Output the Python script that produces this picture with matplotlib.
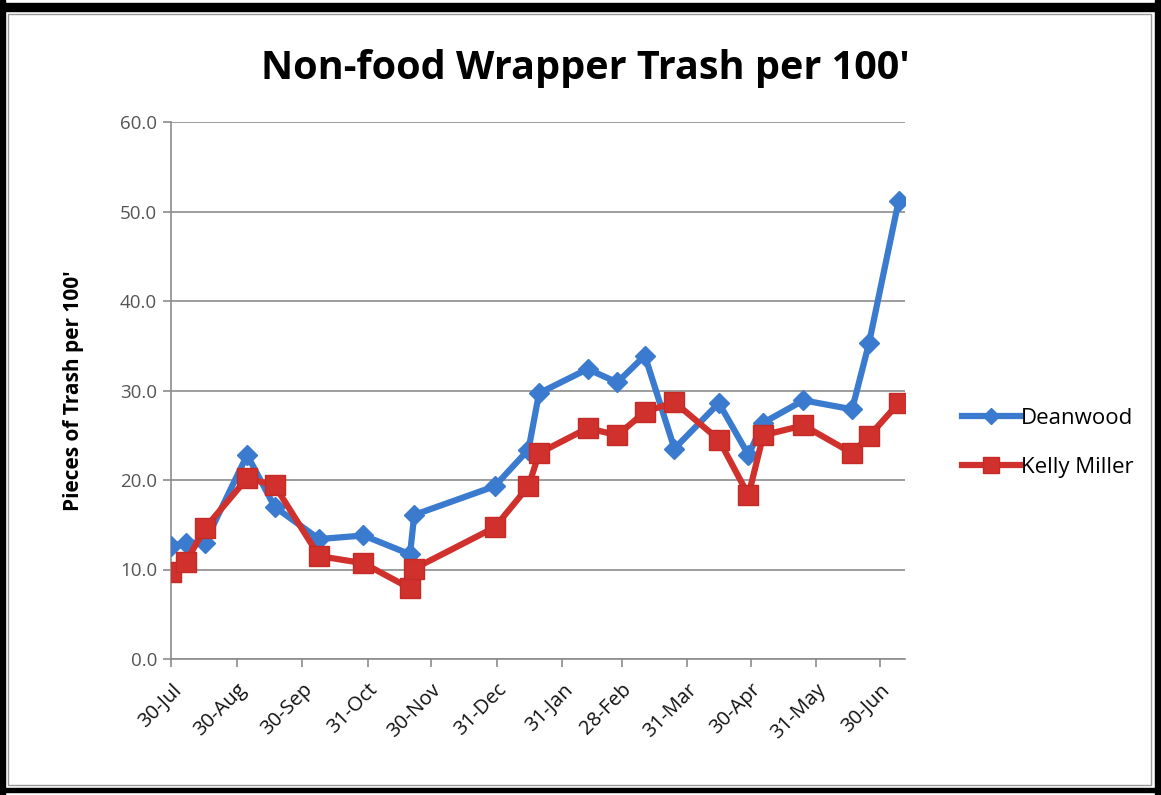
import matplotlib
matplotlib.use("Agg")
import matplotlib.pyplot as plt
from matplotlib.patches import Rectangle
from datetime import datetime

# Survey dates and litter counts (pieces per 100 ft)
survey_dates = [
    "2009-07-30", "2009-08-06", "2009-08-15", "2009-09-04", "2009-09-17",
    "2009-10-08", "2009-10-29", "2009-11-20", "2009-11-22", "2009-12-30",
    "2010-01-15", "2010-01-20", "2010-02-12", "2010-02-26", "2010-03-11",
    "2010-03-25", "2010-04-15", "2010-04-29", "2010-05-06", "2010-05-25",
    "2010-06-17", "2010-06-25", "2010-07-09",
]
deanwood = [12.6, 13.0, 13.0, 22.8, 17.0, 13.4, 13.8, 11.7, 16.1, 19.3,
            23.4, 29.7, 32.4, 30.9, 33.9, 23.5, 28.6, 22.8, 26.4, 28.9,
            27.9, 35.3, 51.2]
kelly_miller = [9.7, 10.8, 14.6, 20.2, 19.4, 11.5, 10.7, 7.9, 10.1, 14.7,
                19.3, 23.0, 25.8, 25.0, 27.6, 28.7, 24.5, 18.3, 25.0, 26.1,
                23.0, 24.9, 28.6]

tick_dates = ["2009-07-30", "2009-08-30", "2009-09-30", "2009-10-31",
              "2009-11-30", "2009-12-31", "2010-01-31", "2010-02-28",
              "2010-03-31", "2010-04-30", "2010-05-31", "2010-06-30"]
tick_labels = ["30-Jul", "30-Aug", "30-Sep", "31-Oct", "30-Nov", "31-Dec",
               "31-Jan", "28-Feb", "31-Mar", "30-Apr", "31-May", "30-Jun"]
y_ticks = [0, 10, 20, 30, 40, 50, 60]

to_dt = lambda s: datetime.strptime(s, "%Y-%m-%d")
x = [to_dt(s) for s in survey_dates]
xt = [to_dt(s) for s in tick_dates]

plt.rcParams["font.family"] = ["Open Sans", "DejaVu Sans"]

W, H = 1161, 795
fig = plt.figure(figsize=(W / 100, H / 100), dpi=100)
fig.patch.set_facecolor("white")

ax = fig.add_axes([171 / W, 1 - 659 / H, (905 - 171) / W, (659 - 122) / H])

blue = "#3A7BD0"
red = "#D0312D"
ax.plot(x, deanwood, color=blue, lw=4.5, marker="D", ms=10,
        mec=blue, mfc=blue, label="Deanwood", zorder=3,
        solid_joinstyle="round")
ax.plot(x, kelly_miller, color=red, lw=4.5, marker="s", ms=14,
        mec="#C42A26", mfc=red, label="Kelly Miller", zorder=4,
        solid_joinstyle="round")

ax.set_ylim(0, 60)
ax.set_yticks(y_ticks)
ax.set_yticklabels([f"{v:.1f}" for v in y_ticks], color="#555555", fontsize=13.5)
ax.set_xlim(to_dt("2009-07-30"), to_dt("2010-07-12"))
ax.set_xticks(xt)
ax.set_xticklabels(tick_labels, rotation=45, ha="right", rotation_mode="anchor",
                   fontsize=14.5, color="#111111")

ax.grid(axis="y", color="#8c8c8c", lw=1.2)
ax.set_axisbelow(True)
for s in ("top", "right"):
    ax.spines[s].set_visible(False)
for s in ("left", "bottom"):
    ax.spines[s].set_color("#8c8c8c")
    ax.spines[s].set_linewidth(1.2)
ax.tick_params(axis="both", direction="out", color="#8c8c8c", length=6, width=1.2)
ax.tick_params(axis="y", pad=4)
ax.tick_params(axis="x", pad=9)

ax.set_ylabel("Pieces of Trash per 100'", fontsize=15, fontweight="bold",
              labelpad=26)

fig.text(585 / W, 1 - 68 / H, "Non-food Wrapper Trash per 100'",
         ha="center", va="center", fontsize=28.5, fontweight="bold")

leg = fig.legend(loc="center left", bbox_to_anchor=(942 / W, 1 - 443 / H),
                 frameon=False, fontsize=16, handlelength=2.6,
                 handletextpad=0.05, labelspacing=1.25, markerscale=0.8)

# page border around the chart
fig.add_artist(Rectangle((0, 0), 5 / W, 1, transform=fig.transFigure,
                         color="black", zorder=10))
fig.add_artist(Rectangle((1155 / W, 0), 6 / W, 1, transform=fig.transFigure,
                         color="black", zorder=10))
fig.add_artist(Rectangle((0, 1 - 11 / H), 1, 8 / H, transform=fig.transFigure,
                         color="black", zorder=10))
fig.add_artist(Rectangle((0, 3 / H), 1, 4 / H, transform=fig.transFigure,
                         color="black", zorder=10))
fig.add_artist(Rectangle((8 / W, 10 / H), 1143 / W, 1 - 24 / H,
                         transform=fig.transFigure, fill=False,
                         edgecolor="#9a9a9a", lw=1, zorder=9))

fig.savefig("out.png", dpi=100)
